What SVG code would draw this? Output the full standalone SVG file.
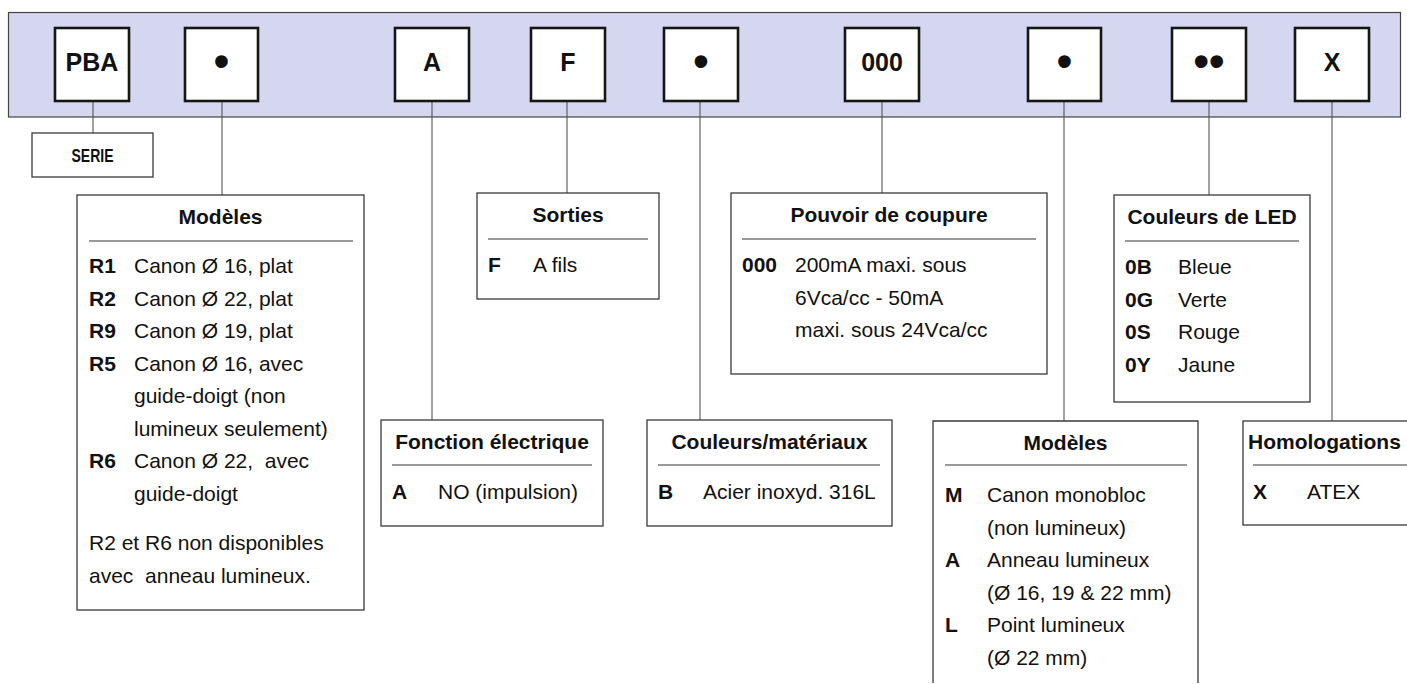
<svg xmlns="http://www.w3.org/2000/svg" width="1407" height="684" viewBox="0 0 1407 684">
<style>
text{font-family:"Liberation Sans",Arial,sans-serif;fill:#111}
.key{fill:#fff;stroke:#161616;stroke-width:2.6}
.key-t{font-size:25px;font-weight:bold;text-anchor:middle}
.dot{font-size:44px;font-weight:bold;text-anchor:middle}
.box{fill:#fff;stroke:#3a3a3a;stroke-width:1.3}
.sep{stroke:#777;stroke-width:1.6}
.title{font-size:21px;font-weight:bold;text-anchor:middle}
.title-l{font-size:21px;font-weight:bold}
.code{font-size:21px;font-weight:bold}
.desc{font-size:21px}
.conn{stroke:#555;stroke-width:1.1;fill:none}
</style>
<rect id="bar" x="8.5" y="12.5" width="1392" height="104.5" fill="#d5d6f0" stroke="#444" stroke-width="1.2"/>
<g id="connectors">
<line class="conn" x1="93" y1="101" x2="93" y2="133"/>
<line class="conn" x1="222" y1="101" x2="222" y2="195"/>
<line class="conn" x1="432" y1="101" x2="432" y2="420"/>
<line class="conn" x1="567" y1="101" x2="567" y2="193"/>
<line class="conn" x1="700" y1="101" x2="700" y2="420"/>
<line class="conn" x1="882" y1="101" x2="882" y2="193"/>
<line class="conn" x1="1064" y1="101" x2="1064" y2="421"/>
<line class="conn" x1="1209" y1="101" x2="1209" y2="195"/>
<line class="conn" x1="1332" y1="101" x2="1332" y2="421"/>
</g>
<g id="key-pba"><rect class="key" x="55" y="28" width="74" height="73"/><text class="key-t" x="92" y="71">PBA</text></g>
<g id="key-dot1"><rect class="key" x="185" y="28" width="73" height="73"/><text class="dot" x="221.5" y="76">•</text></g>
<g id="key-a"><rect class="key" x="395" y="28" width="74" height="73"/><text class="key-t" x="432" y="71">A</text></g>
<g id="key-f"><rect class="key" x="531" y="28" width="74" height="73"/><text class="key-t" x="568" y="71">F</text></g>
<g id="key-dot2"><rect class="key" x="664" y="28" width="74" height="73"/><text class="dot" x="701" y="76">•</text></g>
<g id="key-000"><rect class="key" x="845" y="28" width="74" height="73"/><text class="key-t" x="882" y="71">000</text></g>
<g id="key-dot3"><rect class="key" x="1028" y="28" width="73" height="73"/><text class="dot" x="1064.5" y="76">•</text></g>
<g id="key-dot4"><rect class="key" x="1172" y="28" width="74" height="73"/><text class="dot" x="1209" y="76">••</text></g>
<g id="key-x"><rect class="key" x="1295" y="28" width="74" height="73"/><text class="key-t" x="1332" y="71">X</text></g>

<g id="serie"><rect class="box" x="32" y="133" width="121" height="44"/><text x="92.5" y="162" font-size="18" font-weight="bold" text-anchor="middle" textLength="42" lengthAdjust="spacingAndGlyphs">SERIE</text></g>

<g id="modeles-1">
<rect class="box" x="77" y="195" width="287" height="415"/>
<text class="title" x="220.5" y="224">Modèles</text>
<line class="sep" x1="89" y1="241" x2="353" y2="241"/>
<text class="code" x="89" y="273">R1</text><text class="desc" x="134" y="273">Canon Ø 16, plat</text>
<text class="code" x="89" y="305.5">R2</text><text class="desc" x="134" y="305.5">Canon Ø 22, plat</text>
<text class="code" x="89" y="338">R9</text><text class="desc" x="134" y="338">Canon Ø 19, plat</text>
<text class="code" x="89" y="370.5">R5</text><text class="desc" x="134" y="370.5">Canon Ø 16, avec</text>
<text class="desc" x="134" y="403">guide-doigt (non</text>
<text class="desc" x="134" y="435.5">lumineux seulement)</text>
<text class="code" x="89" y="468">R6</text><text class="desc" x="134" y="468" xml:space="preserve">Canon Ø 22,  avec</text>
<text class="desc" x="134" y="500.5">guide-doigt</text>
<text class="desc" x="89" y="550">R2 et R6 non disponibles</text>
<text class="desc" x="89" y="582.5" xml:space="preserve">avec  anneau lumineux.</text>
</g>

<g id="sorties">
<rect class="box" x="477" y="193" width="182" height="106"/>
<text class="title" x="568" y="222">Sorties</text>
<line class="sep" x1="488" y1="239" x2="648" y2="239"/>
<text class="code" x="488" y="272">F</text><text class="desc" x="533" y="272">A fils</text>
</g>

<g id="fonction">
<rect class="box" x="381" y="420" width="222" height="106"/>
<text class="title" x="492" y="449">Fonction électrique</text>
<line class="sep" x1="392" y1="465" x2="592" y2="465"/>
<text class="code" x="392" y="499">A</text><text class="desc" x="438" y="499">NO (impulsion)</text>
</g>

<g id="couleurs">
<rect class="box" x="647" y="420" width="245" height="106"/>
<text class="title" x="769.5" y="449">Couleurs/matériaux</text>
<line class="sep" x1="658" y1="465" x2="880" y2="465"/>
<text class="code" x="658" y="499">B</text><text class="desc" x="703" y="499">Acier inoxyd. 316L</text>
</g>

<g id="pouvoir">
<rect class="box" x="731" y="193" width="316" height="181"/>
<text class="title" x="889" y="222">Pouvoir de coupure</text>
<line class="sep" x1="742" y1="239" x2="1036" y2="239"/>
<text class="code" x="742" y="272">000</text><text class="desc" x="795" y="272">200mA maxi. sous</text>
<text class="desc" x="795" y="304.5">6Vca/cc - 50mA</text>
<text class="desc" x="795" y="337">maxi. sous 24Vca/cc</text>
</g>

<g id="led">
<rect class="box" x="1114" y="195" width="196" height="207"/>
<text class="title" x="1212" y="224">Couleurs de LED</text>
<line class="sep" x1="1125" y1="241" x2="1299" y2="241"/>
<text class="code" x="1125" y="274">0B</text><text class="desc" x="1178" y="274">Bleue</text>
<text class="code" x="1125" y="306.5">0G</text><text class="desc" x="1178" y="306.5">Verte</text>
<text class="code" x="1125" y="339">0S</text><text class="desc" x="1178" y="339">Rouge</text>
<text class="code" x="1125" y="371.5">0Y</text><text class="desc" x="1178" y="371.5">Jaune</text>
</g>

<g id="modeles-2">
<path class="box" d="M933 683 V421 H1198 V683"/>
<text class="title" x="1065.5" y="450">Modèles</text>
<line class="sep" x1="945" y1="465" x2="1187" y2="465"/>
<text class="code" x="945" y="502">M</text><text class="desc" x="987" y="502">Canon monobloc</text>
<text class="desc" x="987" y="534.5">(non lumineux)</text>
<text class="code" x="945" y="567">A</text><text class="desc" x="987" y="567">Anneau lumineux</text>
<text class="desc" x="987" y="599.5">(Ø 16, 19 &amp; 22 mm)</text>
<text class="code" x="945" y="632">L</text><text class="desc" x="987" y="632">Point lumineux</text>
<text class="desc" x="987" y="664.5">(Ø 22 mm)</text>
</g>

<g id="homologations">
<rect class="box" x="1243" y="421" width="200" height="104"/>
<text class="title-l" x="1248" y="449">Homologations</text>
<line class="sep" x1="1253" y1="465" x2="1407" y2="465"/>
<text class="code" x="1253" y="499">X</text><text class="desc" x="1307" y="499">ATEX</text>
</g>
</svg>
